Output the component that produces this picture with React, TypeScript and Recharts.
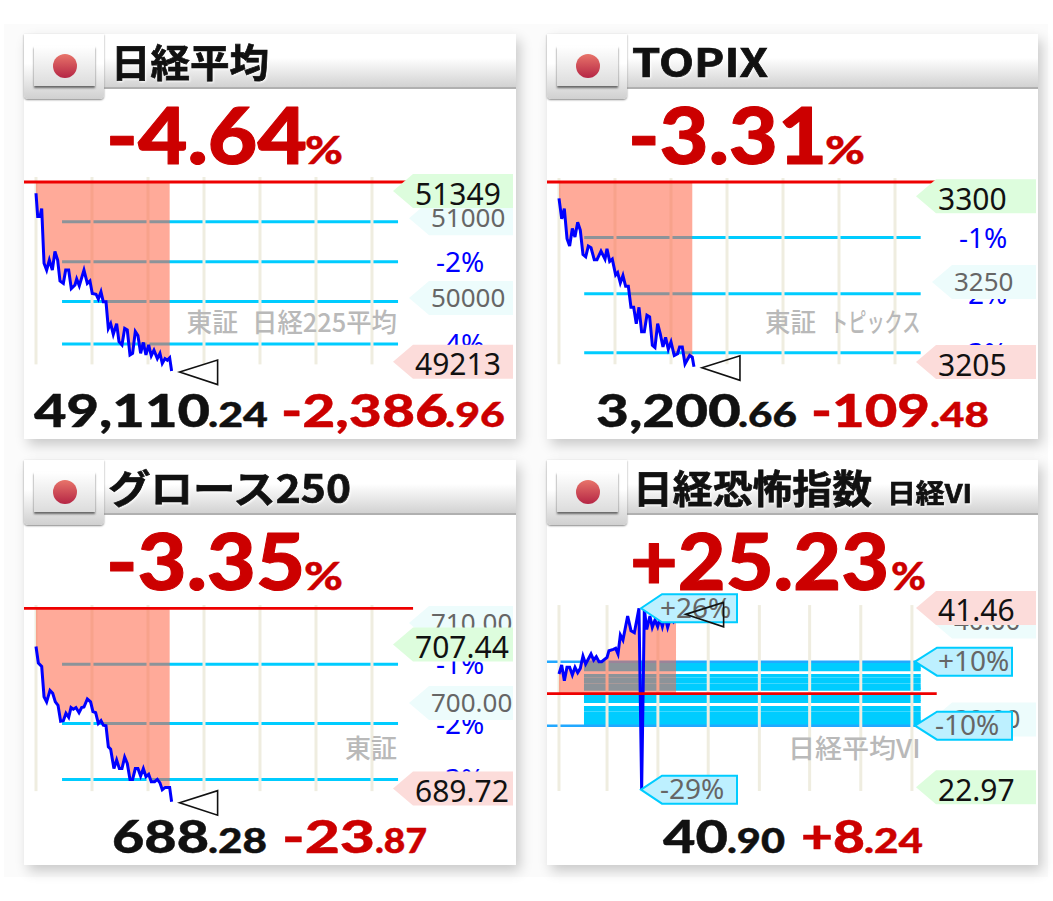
import React from 'react';
import { ComposedChart, XAxis, YAxis, Area, Line, ReferenceLine, ReferenceDot } from 'recharts';

// --- series: minutes since the open, % change from the previous close ---
const nikkeiMin = [0,1.8,4.3,6.1,8.6,11.4,14.3,17.5,20.3,23.2,25.7,29.3,31.8,35,37.8,41.8,43.6,46.4,51.4,55,57.8,60.3,64.3,66.8,69.6,72.1,75,77.5,80,82.8,86.4,88.9,92.1,95,97.8,100.7,103.5,106.4,109.2,112.1,115,117.8,120.7,123.5,126.4,130,132.8,135.3,138.2,140.7,143.2,145.3];
const nikkeiPct = [-0.28,-0.86,-0.86,-0.66,-2.02,-2.19,-1.94,-2.19,-1.73,-1.94,-2.46,-2.52,-2.19,-2.19,-2.65,-2.56,-2.41,-2.58,-2.19,-2.52,-2.46,-2.77,-2.79,-2.91,-2.73,-2.98,-2.98,-3.64,-3.52,-3.79,-3.52,-3.97,-4.05,-3.64,-3.68,-4.3,-4.26,-3.72,-3.82,-4.26,-3.99,-4.3,-4.05,-4.32,-4.18,-4.39,-4.26,-4.51,-4.39,-4.43,-4.37,-4.7];
const topixMin = [0,2.9,5.7,8.6,11.4,14.3,17.1,20,22.8,25.7,28.6,31.4,34.3,37.8,40.7,45,49.3,51.4,54.3,57.1,60.7,62.8,65.7,68.5,71.4,74.3,77.1,80,82.8,85.7,88.5,91.4,94.2,97.1,100,102.8,105.7,108.5,111.4,114.2,117.1,120,123.5,127.1,129.2,132.1,135,140,142.8,144.6];
const topixPct = [-0.29,-0.65,-0.47,-1,-1.13,-0.82,-0.97,-0.71,-0.85,-1.28,-1.32,-1.13,-1.16,-1.37,-1.37,-1.22,-1.36,-1.18,-1.4,-1.36,-1.64,-1.6,-1.78,-1.65,-1.84,-1.84,-2.21,-2.21,-2.5,-2.21,-2.64,-2.64,-2.35,-2.38,-2.88,-2.92,-2.5,-2.68,-2.91,-2.74,-2.95,-2.82,-3.06,-3.03,-2.91,-2.91,-3.21,-3.06,-3.09,-3.26];
const growthMin = [0,2.5,6.1,8.6,11.4,15,17.9,20.7,23.6,26.4,29.3,32.1,35,37.5,40,42.8,46.1,48.9,51.4,55,58.5,61,63.9,66.8,69.6,72.1,75,77.5,80,83.5,86.4,89.3,92.1,95,97.8,100.7,103.5,106.4,109.2,112.1,115,117.8,120.7,123.5,127.1,130,132.8,135.3,138.5,143.2,145.3];
const growthPct = [-0.67,-0.96,-1.02,-1.55,-1.64,-1.44,-1.49,-1.64,-1.7,-1.98,-1.97,-1.84,-1.91,-1.74,-1.77,-1.74,-1.83,-1.74,-1.73,-1.59,-1.64,-1.81,-1.83,-2.02,-1.97,-2.05,-2.06,-2.43,-2.47,-2.81,-2.66,-2.81,-2.81,-2.61,-2.72,-3,-3,-2.81,-2.81,-2.94,-2.81,-2.95,-2.91,-3.04,-3.04,-3,-3.06,-3.18,-3.14,-3.14,-3.39];
const viMin = [0,3.2,6.4,9.5,12.7,15.9,19.1,22.3,25.4,28.6,31.8,38.2,41.4,44.5,47.7,50.9,57.3,59.6,64.8,67.6,70.4,73.2,76.3,81.9,85.9,89.9,95.4,98.6,101.8,104.6,108.5,111.3,114.5,117.7,120.5,123.3,126.4,129.6,133.6,136.8,139.6,141.5];
const viPct = [6.15,8.96,4.06,8.23,8.23,5.83,8.23,6.56,7.92,11.77,9.27,12.4,10.52,11.56,10,10,11.35,13.44,13.85,14.17,12.4,18.33,16.77,24.27,19.69,19.06,26.67,-30.1,26.67,20.1,24.27,20.73,23.02,20.94,23.54,20.94,24.06,20.73,24.27,22.5,23.5,25.1];

// --- reference levels ---
const nikkeiLevels = [-0.99, -1.98, -2.97, -4.03];
const topixLevels = [-0.98, -1.97, -3.01];
const growthLevels = [-0.98, -2.02, -3.0];
const viOuterLevels = [10, -10];
const viBandLevels = [9.1,8.2,7.5,5.7,4.7,3.8,2.8,1.9,1.4,-0.9,-1.8,-2.4,-4.3,-5.2,-6.2,-7.1,-8,-8.5,-9.3];
const sessionGrid = [0,60,120,180,240,300,360];
const viGrid = [0,57.3,118,178,239,299,360,421];

// --- tag labels ---
const nikkeiTags = [
  { text: '51000', y: -0.9, kind: 'info' },
  { text: '50000', y: -2.886, kind: 'info' },
  { text: '51349', y: -0.224, kind: 'high' },
  { text: '49213', y: -4.47, kind: 'low' },
];
const topixTags = [
  { text: '3250', y: -1.764, kind: 'info' },
  { text: '3300', y: -0.252, kind: 'high' },
  { text: '3205', y: -3.175, kind: 'low' },
];
const growthTags = [
  { text: '710.00', y: -0.258, kind: 'info' },
  { text: '700.00', y: -1.66, kind: 'info' },
  { text: '707.44', y: -0.635, kind: 'high' },
  { text: '689.72', y: -3.16, kind: 'low' },
];
const viTags = [
  { text: '40.00', y: 22.6, kind: 'info' },
  { text: '30.00', y: -8.1, kind: 'info' },
  { text: '41.46', y: 26.8, kind: 'low' },
  { text: '22.97', y: -29.2, kind: 'high' },
];
const viBoxTags = [
  { text: '+10%', y: 10, side: 'right', tx: 391 },
  { text: '-10%', y: -10, side: 'right', tx: 388 },
  { text: '+26%', y: 26.7, side: 'left', tx: 113 },
  { text: '-29%', y: -30, side: 'left', tx: 113 },
];
const nikkeiPctLabels = [{ text: '-2%', y: -1.98 }, { text: '-4%', y: -4.03 }];
const topixPctLabels = [{ text: '-1%', y: -0.98 }, { text: '-2%', y: -1.97 }, { text: '-3%', y: -3.01 }];
const growthPctLabels = [{ text: '-1%', y: -0.98 }, { text: '-2%', y: -2.02 }, { text: '-3%', y: -3.0 }];

const BLUE = '#0000ff', CYAN = '#00ccff', GRID = '#efede0', RED = '#ee0000', INK = '#111111', LOSS = '#cc0000';
const TAG_FILL: Record<string, string> = { high: '#ddfddd', low: '#fcdcda', info: '#edfcfc' };

const rows = (mins: number[], pcts: number[], shadeEnd: number) =>
  mins.map((m, i) => ({ m, pct: pcts[i], shade: m <= shadeEnd ? pcts[i] : null }));

const Tag = (t: any) => (p: any) => {
  const info = t.kind === 'info';
  const tip = info ? 385 : 369, body = info ? 405 : 389, right = 489, top = p.cy - 17, bot = p.cy + 17;
  return (
    <g>
      <polygon points={`${tip},${p.cy} ${body},${top} ${right},${top} ${right},${bot} ${body},${bot}`} fill={TAG_FILL[t.kind]} />
      <text x={info ? 407 : 391} y={p.cy + (info ? 8.5 : 13.5)} fontFamily="'Noto Sans'" fontSize={info ? 26 : 30} fill={info ? '#666666' : INK}>{t.text}</text>
    </g>
  );
};
const BoxTag = (t: any) => (p: any) => {
  const l = t.side === 'right';
  const tip = l ? 368 : 94, body = l ? 390 : 115, right = l ? 465 : 190, top = p.cy - 14, bot = p.cy + 14;
  return (
    <g>
      <polygon points={`${tip},${p.cy} ${body},${top} ${right},${top} ${right},${bot} ${body},${bot}`} fill="#bdf0ff" stroke={CYAN} strokeWidth={2} />
      <text x={t.tx} y={p.cy + 9.5} fontFamily="'Noto Sans'" fontSize={28} fill="#666666">{t.text}</text>
    </g>
  );
};
const PctLabel = (t: any) => (p: any) => (
  <text x={412} y={p.cy + 10} fontFamily="'Noto Sans'" fontSize={28} fill={BLUE}>{t.text}</text>
);
// watermark pieces: text, left, right (within the card)
const Watermark = (parts: any[]) => (p: any) => (
  <g>
    {parts.map((s, i) => (
      <text key={i} x={s[1]} y={p.cy + 10} fontFamily="'Noto Sans CJK JP'" fontWeight={500} fontSize={26} fill="#b9b9b9" textLength={s[2] - s[1]} lengthAdjust="spacingAndGlyphs">{s[0]}</text>
    ))}
  </g>
);
const Marker = (p: any) => (
  <polygon points={`${p.cx + 8},${p.cy + 1} ${p.cx + 46},${p.cy - 11} ${p.cx + 46},${p.cy + 13.5}`} fill="none" stroke="#111111" strokeWidth={1.6} />
);

type PanelCfg = {
  left: number; top: number; width: number; xDomain: number[]; yDomain: number[];
  data: any[]; levels: number[]; grid: number[]; gridY: number[]; redEnd: number; levelX: number[];
  tags: any[]; pctLabels: any[]; mark: any[]; markY: number;
  band?: number[]; outer?: number[]; boxTags?: any[];
};

const panels: PanelCfg[] = [
  { left: 24, top: 34, width: 492, xDomain: [-12.857, 514.29], yDomain: [3.68, -6.39], data: rows(nikkeiMin, nikkeiPct, 144), levels: nikkeiLevels, grid: sessionGrid, gridY: [0.124, -4.535], redEnd: 404, levelX: [27.9, 387.9], tags: nikkeiTags, pctLabels: nikkeiPctLabels, mark: [['東証', 162.5, 214], ['日経225平均', 228, 373]], markY: -3.475 },
  { left: 547, top: 34, width: 491, xDomain: [-12.857, 513.2], yDomain: [2.61, -4.533], data: rows(topixMin, topixPct, 143), levels: topixLevels, grid: sessionGrid, gridY: [0.07, -3.215], redEnd: 404.7, levelX: [27, 387.5], tags: topixTags, pctLabels: topixPctLabels, mark: [['東証', 218, 269], ['トピックス', 283, 373.5]], markY: -2.464 },
  { left: 24, top: 460, width: 492, xDomain: [-12.857, 514.29], yDomain: [2.6, -4.5], data: rows(growthMin, growthPct, 144), levels: growthLevels, grid: sessionGrid, gridY: [0.058, -3.205], redEnd: 404, levelX: [27.9, 387.9], tags: growthTags, pctLabels: growthPctLabels, mark: [['東証', 321, 373]], markY: -2.45 },
  { left: 547, top: 460, width: 491, xDomain: [-14.31, 571.4], yDomain: [73.03, -53.53], data: rows(viMin, viPct, 140), levels: [], grid: viGrid, gridY: [27.7, -30.4], redEnd: 450.6, levelX: [29.8, 431.5], tags: viTags, pctLabels: [], mark: [['日経平均VI', 241, 373.5]], markY: -17, band: viBandLevels, outer: viOuterLevels, boxTags: viBoxTags },
];

const MiniChart = ({ c }: { c: PanelCfg }) => {
  const xMin = c.xDomain[0];
  return (
    <div style={{ position: 'absolute', left: c.left, top: c.top }}>
      <ComposedChart width={c.width} height={405} data={c.data} margin={{ top: 0, right: 0, bottom: 0, left: 0 }}>
        <XAxis dataKey="m" type="number" domain={c.xDomain} hide allowDataOverflow />
        <YAxis type="number" domain={[c.yDomain[1], c.yDomain[0]]} hide allowDataOverflow />
        {(c.band || []).map((v, i) => (
          <ReferenceLine key={'b' + i} segment={[{ x: c.levelX[0], y: v }, { x: c.levelX[1], y: v }]} stroke={CYAN} strokeWidth={3} ifOverflow="visible" zIndex={-40} />
        ))}
        {c.levels.map((v, i) => (
          <ReferenceLine key={'l' + i} segment={[{ x: c.levelX[0], y: v }, { x: c.levelX[1], y: v }]} stroke={CYAN} strokeWidth={3} ifOverflow="visible" zIndex={-40} />
        ))}
        {(c.outer || []).map((v, i) => (
          <ReferenceLine key={'o' + i} segment={[{ x: xMin, y: v }, { x: c.levelX[1], y: v }]} stroke="#22a8ff" strokeWidth={2.6} ifOverflow="visible" zIndex={-40} />
        ))}
        {c.grid.map((v, i) => (
          <ReferenceLine key={'g' + i} segment={[{ x: v, y: c.gridY[0] }, { x: v, y: c.gridY[1] }]} stroke={GRID} strokeWidth={3} ifOverflow="visible" zIndex={-30} />
        ))}
        <Area dataKey="shade" type="linear" baseValue={0} stroke="none" fill="rgb(255,100,70)" fillOpacity={0.55} isAnimationActive={false} dot={false} activeDot={false} connectNulls={false} />
        <ReferenceLine segment={[{ x: xMin, y: 0 }, { x: c.redEnd, y: 0 }]} stroke={RED} strokeWidth={2.8} ifOverflow="visible" zIndex={450} />
        <Line dataKey="pct" type="linear" stroke={BLUE} strokeWidth={3} dot={false} activeDot={false} isAnimationActive={false} />
        <ReferenceDot x={0} y={c.markY} r={1} ifOverflow="visible" shape={Watermark(c.mark)} zIndex={700} />
        {c.pctLabels.map((t, i) => (
          <ReferenceDot key={'p' + i} x={0} y={t.y} r={1} ifOverflow="visible" shape={PctLabel(t)} zIndex={700} />
        ))}
        {c.tags.map((t, i) => (
          <ReferenceDot key={'t' + i} x={0} y={t.y} r={1} ifOverflow="visible" shape={Tag(t)} zIndex={710} />
        ))}
        {(c.boxTags || []).map((t, i) => (
          <ReferenceDot key={'x' + i} x={0} y={t.y} r={1} ifOverflow="visible" shape={BoxTag(t)} zIndex={720} />
        ))}
        <ReferenceDot x={c.data[c.data.length - 1].m} y={c.data[c.data.length - 1].pct} r={1} ifOverflow="visible" shape={Marker} zIndex={730} />
      </ComposedChart>
    </div>
  );
};

// --- header titles and readouts ---
const titles = [
  { x: 111, y: 77, text: '日経平均', size: 39, w: 158 },
  { x: 632, y: 77, text: 'TOPIX', size: 39, w: 136 },
  { x: 108, y: 503, text: 'グロース250', size: 39, w: 243 },
  { x: 633, y: 503, text: '日経恐怖指数', size: 39, w: 239 },
  { x: 887, y: 503, text: '日経VI', size: 26, w: 85 },
];
const readouts: any[] = [
  ['-4.64', 106, 307, 164, 79, LOSS], ['%', 305, 343, 164, 37, LOSS],
  ['49,110', 34, 210, 427, 46, INK], ['.24', 208, 268, 427, 35, INK], ['-2,386', 281, 448, 427, 46, LOSS], ['.96', 445, 505, 427, 35, LOSS],
  ['-3.31', 628, 827, 164, 79, LOSS], ['%', 825, 865, 164, 37, LOSS],
  ['3,200', 596, 741, 427, 46, INK], ['.66', 738, 797, 427, 35, INK], ['-109', 811, 930, 427, 46, LOSS], ['.48', 930, 989, 427, 35, LOSS],
  ['-3.35', 106, 305, 590, 79, LOSS], ['%', 304, 343, 590, 37, LOSS],
  ['688', 112, 209, 853, 46, INK], ['.28', 208, 267, 853, 35, INK], ['-23', 282, 375, 853, 46, LOSS], ['.87', 375, 427, 853, 35, LOSS],
  ['+25.23', 630, 889, 590, 79, LOSS], ['%', 891, 926, 590, 37, LOSS],
  ['40', 663, 728, 853, 46, INK], ['.90', 727, 785, 853, 35, INK], ['+8', 801, 865, 853, 46, LOSS], ['.24', 864, 923, 853, 35, LOSS],
];

const Card = ({ c }: { c: PanelCfg }) => (
  <div style={{ position: 'absolute', left: c.left, top: c.top, width: c.width, height: 405, background: '#fff', boxShadow: '4px 6px 12px rgba(0,0,0,0.2)' }}>
    <div style={{ position: 'absolute', left: 0, top: 0, width: c.width, height: 53, background: 'linear-gradient(#ffffff 45%, #d2d2d2)', borderBottom: '2px solid #b0b0b0' }} />
    <div style={{ position: 'absolute', left: 0, top: 0, width: 80, height: 65, background: 'linear-gradient(#ffffff 45%, #d0d0d0)', borderRadius: '0 0 4px 4px', boxShadow: '0 1px 2px #888' }} />
    <div style={{ position: 'absolute', left: 10, top: 12, width: 61, height: 40, background: 'linear-gradient(#ffffff, #dcdcdc)', boxShadow: '0 2px 2px #666' }} />
    <div style={{ position: 'absolute', left: 29, top: 20, width: 24, height: 24, borderRadius: 12, background: 'linear-gradient(#e8746a, #b52645)' }} />
  </div>
);

export default function App() {
  return (
    <div style={{ position: 'absolute', left: 0, top: 0, width: 1053, height: 901, background: '#fff', overflow: 'hidden' }}>
      <div style={{ position: 'absolute', left: 4, top: 24, width: 1044, height: 853, background: '#fbfbfb', overflow: 'hidden' }} />
      {panels.map((c, i) => <Card key={i} c={c} />)}
      <svg width={1053} height={901} style={{ position: 'absolute', left: 0, top: 0 }}>
        {titles.map((t, i) => (
          <text key={i} x={t.x} y={t.y} fontFamily="'Noto Sans CJK JP'" fontWeight={700} fontSize={t.size} fill={INK} stroke={INK} strokeWidth={0.7} textLength={t.w} lengthAdjust="spacingAndGlyphs" style={{ filter: 'drop-shadow(1px 1px 1px #fff)' }}>{t.text}</text>
        ))}
        {readouts.map((r, i) => (
          <text key={i} x={r[1]} y={r[3]} fontFamily="Lato" fontWeight={900} fontSize={r[4]} fill={r[5]} stroke={r[5]} strokeWidth={r[4] > 60 ? 1 : 0.4} strokeLinejoin="round" textLength={r[2] - r[1]} lengthAdjust="spacingAndGlyphs">{r[0]}</text>
        ))}
      </svg>
      {panels.map((c, i) => <MiniChart key={i} c={c} />)}
    </div>
  );
}
